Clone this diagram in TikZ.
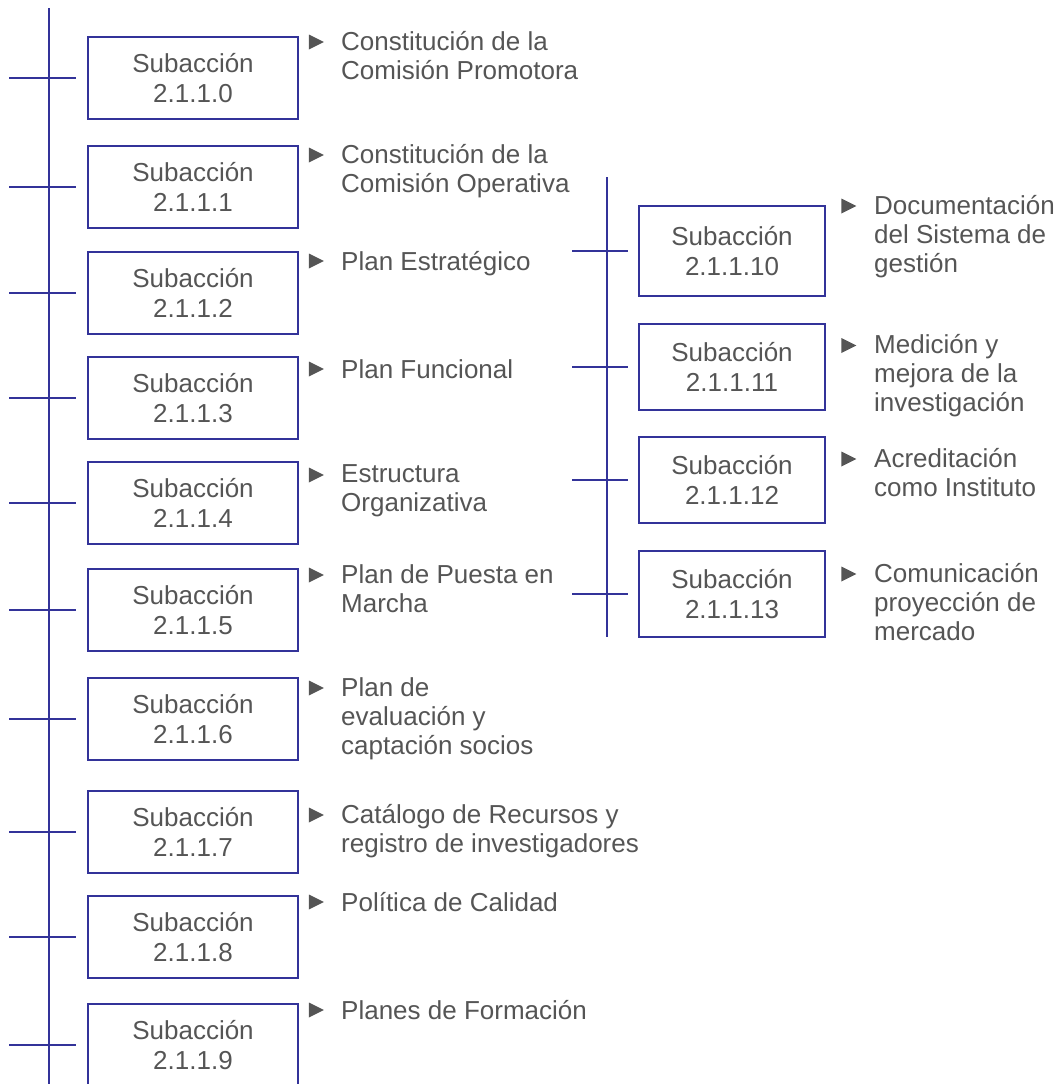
\documentclass[tikz,border=0pt]{standalone}
\usepackage{fontspec}
\setmainfont{Liberation Sans}
\usetikzlibrary{positioning,shapes.geometric}
\definecolor{navy}{RGB}{51,51,153}
\definecolor{txtgray}{RGB}{85,85,85}
\tikzset{
  sub/.style    ={draw=navy, line width=2pt, minimum width=210pt, minimum height=82pt,
                  inner sep=0pt, align=center, text=txtgray, font=\fontsize{26}{30}\selectfont},
  lbl/.style    ={anchor=north west, inner sep=0pt, align=left, text=txtgray,
                  font=\fontsize{26}{29}\selectfont, execute at begin node=\strut},
  pointer/.style={isosceles triangle, isosceles triangle stretches, fill=txtgray, draw=none,
                  minimum width=15pt, minimum height=15pt, inner sep=0pt},
  trunk/.style  ={navy, line width=2pt},
}

\begin{document}
\begin{tikzpicture}[x=1pt, y=-1pt, line cap=butt]
  \useasboundingbox (0,0) rectangle (1061,1084);

  %--- Left trunk ---
  \coordinate (ltop) at (49,8);
  \coordinate (lbot) at (49,1084);
  \draw[trunk] (ltop) -- (lbot);

  %--- Subacciones 2.1.1.0 -- 2.1.1.9 ---
  \foreach \n/\y/\ly/\txt in {
      0/78/42/{Constitución de la\\Comisión Promotora},
      1/187/155/{Constitución de la\\Comisión Operativa},
      2/293/261/{Plan Estratégico},
      3/398/369/{Plan Funcional},
      4/503/475/{Estructura\\Organizativa},
      5/610/575/{Plan de Puesta en\\Marcha},
      6/719/688/{Plan de\\evaluación y\\captación socios},
      7/832/815/{Catálogo de Recursos y\\registro de investigadores},
      8/937/902/{Política de Calidad},
      9/1045/1010/{Planes de Formación}} {
    \node[sub] (s\n) at (193,\y) {Subacción\\2.1.1.\n};
    \draw[trunk] ([xshift=-78pt]s\n.west) -- ([xshift=-11pt]s\n.west);
    \node[pointer] (p\n) at (313.5,\ly) {};
    \node[lbl] (l\n) at (341,\ly-11) {\txt};
  }

  %--- Right trunk ---
  \coordinate (rtop) at (607,177);
  \coordinate (rbot) at (607,637);
  \draw[trunk] (rtop) -- (rbot);

  %--- Subacciones 2.1.1.10 -- 2.1.1.13 ---
  \foreach \n/\y/\h/\ly/\txt in {
      10/251/90/206/{Documentación\\del Sistema de\\gestión},
      11/367/86/345.5/{Medición y\\mejora de la\\investigación},
      12/480/86/459/{Acreditación\\como Instituto},
      13/594/86/574/{Comunicación\\proyección de\\mercado}} {
    \node[sub, minimum width=186pt, minimum height=\h pt] (s\n) at (732,\y) {Subacción\\2.1.1.\n};
    \draw[trunk] ([xshift=-66pt]s\n.west) -- ([xshift=-10pt]s\n.west);
    \node[pointer] (p\n) at (846,\ly) {};
    \node[lbl] (l\n) at (874,\ly-11) {\txt};
  }
\end{tikzpicture}
\end{document}
